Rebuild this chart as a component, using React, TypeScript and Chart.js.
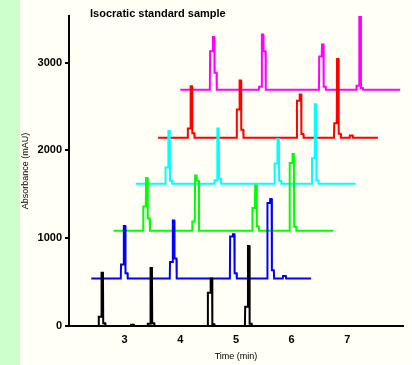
import React, { useEffect, useRef } from "react";
import { Chart, registerables } from "chart.js";

Chart.register(...registerables);

const titleText = "Isocratic standard sample";
const xTitle = "Time (min)";
const yTitle = "Absorbance (mAU)";
const xTicks = [3, 4, 5, 6, 7];
const yTicks = [0, 1000, 2000, 3000];

const traceColors = ["#000000", "#0000ff", "#00ff00", "#00ffff", "#ff0000", "#ff00ff"];
const xOffsets = [2.0, 2.4, 2.8, 3.2, 3.6, 4.0];
const yOffsets = [0, 540, 1085, 1620, 2145, 2690];
const traceStart = 0;
const traceEnd = 3.95;

const peakTimes = [0.6, 1.48, 2.56, 3.23];

const blackApex = [605, 660, 540, 910];
const blackLead = [105, 25, 380, 220];
const blackTail = [30, 30, 20, 25];

const blueApex = [600, 660, 505, 905];
const blueLead = [160, 190, 480, 860];
const blueTail = [60, 230, 60, 95];

const greenApex = [600, 630, 515, 875];
const greenLead = [275, 105, 260, 770];
const greenTail = [140, 570, 50, 45];

const cyanApex = [600, 630, 510, 905];
const cyanLead = [185, 40, 230, 290];
const cyanTail = [35, 60, 35, 40];

const redApex = [585, 650, 490, 895];
const redLead = [105, 320, 420, 165];
const redTail = [50, 90, 40, 45];

const magentaApex = [600, 630, 515, 870];
const magentaLead = [440, 35, 380, 45];
const magentaTail = [195, 440, 35, 20];

const minorTimes = [1.14, 3.47];
const blackMinor = [15, 0];
const blueMinor = [0, 30];
const greenMinor = [0, 0];
const cyanMinor = [0, 0];
const redMinor = [0, 25];
const magentaMinor = [0, 0];

const traces = [
  { apex: blackApex, lead: blackLead, tail: blackTail, minor: blackMinor },
  { apex: blueApex, lead: blueLead, tail: blueTail, minor: blueMinor },
  { apex: greenApex, lead: greenLead, tail: greenTail, minor: greenMinor },
  { apex: cyanApex, lead: cyanLead, tail: cyanTail, minor: cyanMinor },
  { apex: redApex, lead: redLead, tail: redTail, minor: redMinor },
  { apex: magentaApex, lead: magentaLead, tail: magentaTail, minor: magentaMinor },
];

function buildTrace(i: number) {
  const tr = traces[i];
  const xo = xOffsets[i];
  const yo = yOffsets[i];
  type Ev = { t: number; pts: [number, number][] };
  const events: Ev[] = [];
  peakTimes.forEach((t, k) => {
    events.push({
      t,
      pts: [
        [t - 0.07, 0],
        [t - 0.065, tr.lead[k]],
        [t - 0.02, tr.lead[k]],
        [t - 0.015, tr.apex[k]],
        [t + 0.01, tr.apex[k]],
        [t + 0.015, tr.tail[k]],
        [t + 0.05, tr.tail[k]],
        [t + 0.055, 0],
      ],
    });
  });
  minorTimes.forEach((t, k) => {
    const h = tr.minor[k];
    if (h > 0) {
      events.push({
        t,
        pts: [
          [t - 0.03, 0],
          [t - 0.025, h],
          [t + 0.025, h],
          [t + 0.03, 0],
        ],
      });
    }
  });
  events.sort((a, b) => a.t - b.t);
  const pts: { x: number; y: number }[] = [{ x: xo + traceStart, y: yo }];
  events.forEach((e) => e.pts.forEach(([t, v]) => pts.push({ x: xo + t, y: yo + v })));
  pts.push({ x: xo + traceEnd, y: yo });
  return pts;
}

const FONT = "'Liberation Sans', Arial, sans-serif";

export default function App() {
  const ref = useRef<HTMLCanvasElement | null>(null);
  useEffect(() => {
    document.body.style.margin = "0";
    const canvas = ref.current;
    if (!canvas) return;
    const bgPlugin = {
      id: "bg",
      beforeDraw(chart: any) {
        const ctx = chart.ctx;
        ctx.save();
        ctx.fillStyle = "#fffff6";
        ctx.fillRect(0, 0, chart.width, chart.height);
        ctx.fillStyle = "#ccffcc";
        ctx.fillRect(0, 0, 20, chart.height);
        ctx.restore();
      },
      afterDraw(chart: any) {
        const ctx = chart.ctx;
        ctx.save();
        ctx.fillStyle = "#000";
        ctx.font = `bold 11px ${FONT}`;
        ctx.textBaseline = "middle";
        ctx.textAlign = "left";
        ctx.fillText(titleText, 90, 14);
        ctx.restore();
      },
    };
    const chart = new Chart(canvas, {
      type: "line",
      data: {
        datasets: traceColors.map((c, i) => ({
          data: buildTrace(i),
          borderColor: c,
          backgroundColor: c,
          borderWidth: 2,
          pointRadius: 0,
          tension: 0,
          fill: false,
        })),
      },
      options: {
        animation: false,
        responsive: false,
        layout: { padding: { left: 20, right: 9, top: 16, bottom: 0 } },
        plugins: {
          legend: { display: false },
          tooltip: { enabled: false },
          title: { display: false },
        },
        scales: {
          x: {
            type: "linear",
            min: 2,
            max: 8,
            afterBuildTicks: (s: any) => {
              s.ticks = xTicks.map((v) => ({ value: v }));
            },
            afterFit: (s: any) => {
              s.height = 39;
            },
            grid: { display: false, drawTicks: false, tickLength: 0 },
            border: { display: true, color: "#000", width: 2 },
            ticks: {
              color: "#000",
              padding: 7,
              maxRotation: 0,
              autoSkip: false,
              callback: (v: any) => String(v),
              font: { size: 11, weight: "bold", family: FONT },
            },
            title: {
              display: true,
              text: xTitle,
              color: "#000",
              font: { size: 9, family: FONT },
              padding: { top: 3, bottom: 3 },
            },
          },
          y: {
            type: "linear",
            min: 0,
            max: 3530,
            afterBuildTicks: (s: any) => {
              s.ticks = yTicks.map((v) => ({ value: v }));
            },
            afterFit: (s: any) => {
              s.width = 49;
            },
            grid: { drawOnChartArea: false, drawTicks: true, tickLength: 4, color: "#000", lineWidth: 2 },
            border: { display: true, color: "#000", width: 2 },
            ticks: {
              color: "#000",
              padding: 3,
              autoSkip: false,
              callback: (v: any) => String(v),
              font: { size: 11, weight: "bold", family: FONT },
            },
            title: {
              display: true,
              text: yTitle,
              color: "#000",
              font: { size: 9, family: FONT },
              padding: { top: 0, bottom: 0 },
            },
          },
        },
      },
      plugins: [bgPlugin],
    } as any);
    return () => chart.destroy();
  }, []);
  return <canvas ref={ref} width={412} height={365} style={{ display: "block" }} />;
}
